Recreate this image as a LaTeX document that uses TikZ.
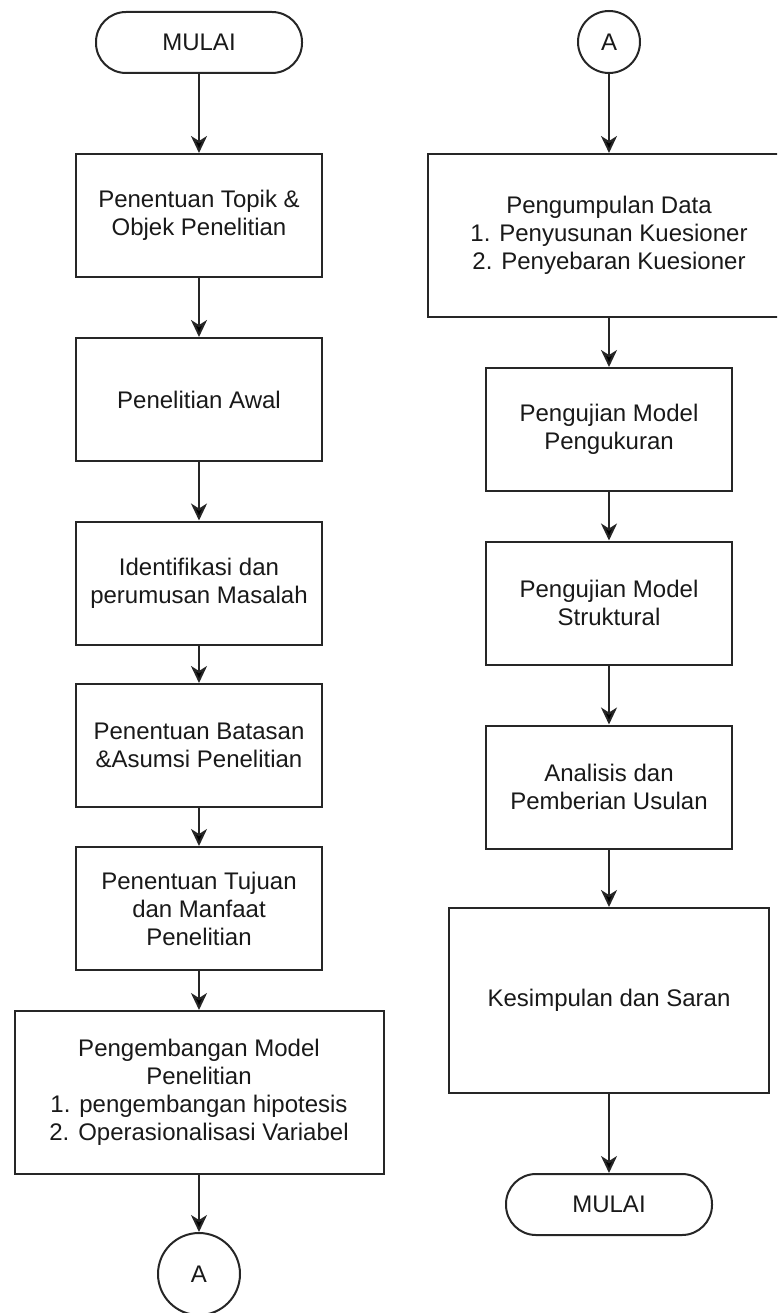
\documentclass[tikz,border=0pt]{standalone}
\usepackage{fontspec}
\setmainfont{Liberation Sans}
\usetikzlibrary{arrows.meta}

\begin{document}
\begin{tikzpicture}[x=1pt, y=-1pt, >={Stealth[length=17pt, width=16pt, inset=5pt]},
	every node/.style={font=\fontsize{24}{28}\selectfont, text=black!90, align=center, inner sep=0pt},
	garis/.style={line width=2pt, draw=black!85},
	proses/.style={garis, rectangle, minimum width=246pt, minimum height=123pt},
	terminal/.style={garis, rectangle, rounded corners=30pt, minimum width=206pt, minimum height=61pt},
	konektor/.style={garis, circle}]
	\useasboundingbox (0,0) rectangle (777,1313);
	\clip (0,0) rectangle (777,1313);
	% kolom kiri
	\node[terminal] (mulai) at (199,42.5) {MULAI};
	\node[proses] (topik) at (199,215.5) {Penentuan Topik \&\\Objek Penelitian};
	\node[proses] (awal) at (199,399.5) {Penelitian Awal};
	\node[proses] (masalah) at (199,583) {Identifikasi dan\\perumusan Masalah};
	\node[proses] (batasan) at (199,745.5) {Penentuan Batasan\\\&Asumsi Penelitian};
	\node[proses] (tujuan) at (199,908.5) {Penentuan Tujuan\\dan Manfaat\\Penelitian};
	\node[proses, minimum width=369pt, minimum height=163pt] (model) at (199,1092.5) {Pengembangan Model\\Penelitian\\1. pengembangan hipotesis\\2. Operasionalisasi Variabel};
	\node[konektor, minimum size=82pt] (konA) at (199,1274) {A};
	% kolom kanan
	\node[konektor, minimum size=62pt] (konB) at (609,42) {A};
	\node[proses, minimum width=362pt, minimum height=163pt] (data) at (609,235.5) {Pengumpulan Data\\1. Penyusunan Kuesioner\\2. Penyebaran Kuesioner};
	\node[proses] (ukur) at (609,429.5) {Pengujian Model\\Pengukuran};
	\node[proses] (struktur) at (609,603) {Pengujian Model\\Struktural};
	\node[proses] (usulan) at (609,787) {Analisis dan\\Pemberian Usulan};
	\node[proses, minimum width=320pt, minimum height=185pt] (saran) at (609,1000.5) {Kesimpulan dan Saran};
	\node[terminal] (selesai) at (609,1204.5) {MULAI};
	\path[garis, ->] % alur
	(mulai) edge (topik)
	(topik) edge (awal)
	(awal) edge (masalah)
	(masalah) edge (batasan)
	(batasan) edge (tujuan)
	(tujuan) edge (model)
	(model) edge (konA)
	(konB) edge (data)
	(data) edge (ukur)
	(ukur) edge (struktur)
	(struktur) edge (usulan)
	(usulan) edge (saran)
	(saran) edge (selesai);
\end{tikzpicture}
\end{document}
